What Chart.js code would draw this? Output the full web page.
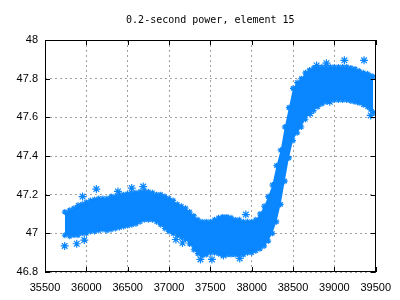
<!DOCTYPE html>
<html>
<head>
<meta charset="utf-8">
<script src="https://cdn.jsdelivr.net/npm/chart.js@4.4.1/dist/chart.umd.min.js"></script>
<style>
  body { margin: 0; background: #fff; }
</style>
</head>
<body>
<canvas id="myChart" width="400" height="300"></canvas>
<script>
// x positions of the band
const xs = [35740, 35800, 35850, 35900, 35950, 36000, 36050, 36100, 36150, 36200,
    36250, 36300, 36350, 36400, 36450, 36500, 36550, 36600, 36650, 36700,
    36750, 36800, 36850, 36900, 36950, 37000, 37050, 37100, 37150, 37200,
    37250, 37300, 37350, 37400, 37450, 37500, 37550, 37600, 37650, 37700,
    37750, 37800, 37850, 37900, 37950, 38000, 38050, 38100, 38150, 38200,
    38250, 38300, 38350, 38400, 38450, 38500, 38550, 38600, 38650, 38700,
    38750, 38800, 38850, 38900, 38950, 39000, 39050, 39100, 39150, 39200,
    39250, 39300, 39350, 39400, 39440, 39470];

// upper edge of the point cloud
const upper = [47.11, 47.12, 47.13, 47.145, 47.15, 47.16, 47.17, 47.175, 47.18, 47.18,
    47.18, 47.19, 47.19, 47.2, 47.2, 47.205, 47.21, 47.21, 47.215, 47.22,
    47.215, 47.21, 47.2, 47.2, 47.19, 47.18, 47.17, 47.15, 47.14, 47.13,
    47.11, 47.09, 47.07, 47.06, 47.06, 47.06, 47.07, 47.08, 47.085, 47.085,
    47.08, 47.07, 47.07, 47.06, 47.06, 47.06, 47.07, 47.1, 47.14, 47.19,
    47.25, 47.35, 47.43, 47.55, 47.65, 47.75, 47.78, 47.8, 47.83, 47.845,
    47.855, 47.86, 47.86, 47.86, 47.86, 47.86, 47.86, 47.86, 47.86, 47.855,
    47.85, 47.84, 47.83, 47.825, 47.815, 47.81];

// lower edge of the point cloud
const lower = [46.99, 46.985, 46.99, 46.99, 47.0, 47.0, 47.01, 47.01, 47.015, 47.02,
    47.015, 47.02, 47.025, 47.03, 47.035, 47.04, 47.045, 47.05, 47.06, 47.07,
    47.07, 47.07, 47.06, 47.045, 47.025, 47.01, 47.0, 46.99, 46.98, 46.97,
    46.945, 46.915, 46.895, 46.885, 46.89, 46.9, 46.9, 46.895, 46.89, 46.89,
    46.89, 46.89, 46.89, 46.89, 46.9, 46.9, 46.91, 46.92, 46.935, 46.96,
    47.0, 47.06, 47.15, 47.27, 47.39, 47.48, 47.52, 47.55, 47.59, 47.62,
    47.635, 47.655, 47.67, 47.68, 47.69, 47.69, 47.69, 47.69, 47.69, 47.685,
    47.68, 47.675, 47.665, 47.655, 47.64, 47.625];

// stray points outside the main band
const strayX = [35738, 35884, 35975, 35955, 36121, 36382, 36549, 36688, 37083, 37163,
    37380, 37519, 37658, 37855, 37929, 38568, 38785, 38904, 39121, 39359,
    38707, 38944, 39440];
const strayY = [46.935, 46.946, 46.965, 47.19, 47.229, 47.217, 47.234, 47.242, 46.968, 46.95,
    46.865, 46.865, 46.885, 46.87, 47.097, 47.749, 47.868, 47.88, 47.895, 47.895,
    47.62, 47.68, 47.61];

const xTicks = [35500, 36000, 36500, 37000, 37500, 38000, 38500, 39000, 39500];
const yTicks = [46.8, 47, 47.2, 47.4, 47.6, 47.8, 48];

const azul = '#0a86ff';

const lowerPts = xs.map((x, i) => ({ x: x, y: lower[i] }));
const upperPts = xs.map((x, i) => ({ x: x, y: upper[i] }));
const strayPts = strayX.map((x, i) => ({ x: x, y: strayY[i] }));

// marco negro y marcas hacia dentro, como gnuplot
const marco = {
    id: 'marco',
    afterDraw(chart) {
        const { ctx, chartArea: a, scales } = chart;
        ctx.save();
        ctx.strokeStyle = '#000';
        ctx.lineWidth = 1;
        ctx.strokeRect(Math.round(a.left) + 0.5, Math.round(a.top) + 0.5,
            Math.round(a.right - a.left) - 1, Math.round(a.bottom - a.top) - 1);
        ctx.beginPath();
        xTicks.forEach(v => {
            const px = Math.round(scales.x.getPixelForValue(v)) + 0.5;
            ctx.moveTo(px, a.bottom); ctx.lineTo(px, a.bottom - 5);
            ctx.moveTo(px, a.top); ctx.lineTo(px, a.top + 5);
        });
        yTicks.forEach(v => {
            const py = Math.round(scales.y.getPixelForValue(v)) + 0.5;
            ctx.moveTo(a.left, py); ctx.lineTo(a.left + 5, py);
            ctx.moveTo(a.right, py); ctx.lineTo(a.right - 5, py);
        });
        ctx.stroke();
        ctx.restore();
    }
};

const pointStyleOpts = {
    pointStyle: 'star',
    pointRadius: 3,
    pointBorderWidth: 1.2,
    pointBorderColor: azul,
    pointBackgroundColor: azul
};

new Chart(document.getElementById('myChart').getContext('2d'), {
    type: 'line',
    data: {
        datasets: [
            Object.assign({
                label: 'lower',
                data: lowerPts,
                borderWidth: 0,
                borderColor: azul,
                fill: false
            }, pointStyleOpts),
            Object.assign({
                label: 'upper',
                data: upperPts,
                borderWidth: 0,
                borderColor: azul,
                backgroundColor: azul,
                fill: '-1'
            }, pointStyleOpts),
            Object.assign({
                label: 'stray',
                data: strayPts,
                showLine: false
            }, pointStyleOpts, { pointRadius: 4 })
        ]
    },
    options: {
        responsive: false,
        animation: false,
        devicePixelRatio: 1,
        layout: {
            padding: { top: 0, right: 19, left: 0, bottom: 0 }
        },
        elements: {
            line: { tension: 0 }
        },
        plugins: {
            legend: { display: false },
            tooltip: { enabled: false },
            title: {
                display: true,
                fullSize: false, // centrado sobre el área del gráfico
                text: '0.2-second power, element 15',
                color: '#000',
                font: { family: 'DejaVu Sans Mono', size: 10, weight: 'normal' },
                padding: { top: 14, bottom: 14 }
            }
        },
        scales: {
            x: {
                type: 'linear',
                min: 35500,
                max: 39500,
                afterFit(s) { s.height = 28; },
                afterBuildTicks(s) { s.ticks = xTicks.map(v => ({ value: v })); },
                ticks: {
                    autoSkip: false,
                    maxRotation: 0,
                    padding: 9,
                    color: '#000',
                    font: { family: 'Liberation Sans', size: 11 },
                    callback: v => String(v)
                },
                grid: { color: '#a0a0a0', drawTicks: false },
                border: { display: false, dash: [2, 3] }
            },
            y: {
                type: 'linear',
                min: 46.8,
                max: 48,
                afterFit(s) { s.width = 45; },
                afterBuildTicks(s) { s.ticks = yTicks.map(v => ({ value: v })); },
                ticks: {
                    padding: 7,
                    color: '#000',
                    font: { family: 'Liberation Sans', size: 11 },
                    callback: v => String(+v.toFixed(1))
                },
                grid: { color: '#a0a0a0', drawTicks: false },
                border: { display: false, dash: [2, 3] }
            }
        }
    },
    plugins: [marco]
});
</script>
</body>
</html>
